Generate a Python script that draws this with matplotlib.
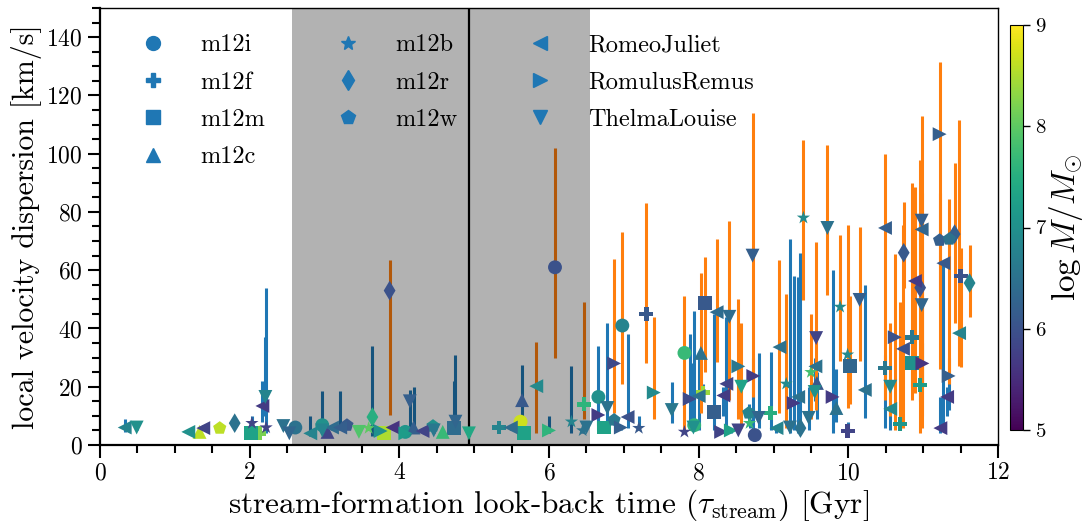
import matplotlib
matplotlib.use("Agg")
import matplotlib.pyplot as plt
from matplotlib.lines import Line2D
from matplotlib.colors import Normalize
import numpy as np

plt.rcParams["font.family"] = "serif"
plt.rcParams["font.serif"] = ["cmr10"]
plt.rcParams["mathtext.fontset"] = "cm"
plt.rcParams["axes.formatter.use_mathtext"] = True

HOSTS = {
    "i": ("m12i", "o"), "f": ("m12f", "P"), "m": ("m12m", "s"), "c": ("m12c", "^"),
    "b": ("m12b", "*"), "r": ("m12r", "d"), "w": ("m12w", "p"),
    "RJ": ("RomeoJuliet", "<"), "RR": ("RomulusRemus", ">"), "TL": ("ThelmaLouise", "v"),
}

t_stream = [
    0.33, 0.49, 1.18, 1.33, 1.38, 1.60, 1.80, 2.03, 2.02, 2.13, 2.17, 2.21, 2.22,
    2.45, 2.53, 2.61, 2.81, 2.97, 2.97, 3.04, 3.10, 3.21, 3.30, 3.46, 3.59, 3.64, 3.75, 3.80, 3.87, 3.91,
    4.08, 4.08, 4.14, 4.19, 4.31, 4.45, 4.46, 4.58, 4.73, 4.75, 4.93,
    5.33, 5.49, 5.62, 5.66, 5.64, 5.83, 6.08, 6.00, 6.30, 6.47, 6.45, 6.50,
    6.66, 6.66, 6.78, 6.74, 6.87, 6.87, 6.98, 6.96, 7.05, 7.20, 7.30, 7.40, 7.64, 7.81, 7.81, 7.93, 7.88, 7.94,
    8.03, 8.08, 8.06, 8.00, 8.20, 8.24, 8.30, 8.41, 8.37, 8.33, 8.43, 8.53, 8.57, 8.53, 8.73, 8.68, 8.72, 8.75,
    8.80, 8.67, 8.96,
    9.04, 9.08, 9.17, 9.22, 9.27, 9.40, 9.33, 9.36, 9.47, 9.50, 9.56, 9.57, 9.58, 9.55, 9.72, 9.79, 9.84, 9.89,
    9.99, 10.02, 9.99,
    10.15, 10.22, 10.49, 10.49, 10.56, 10.56, 10.62, 10.69, 10.74, 10.73, 10.85, 10.89, 10.96, 10.98, 10.98,
    10.98, 10.85, 10.99, 10.96,
    11.22, 11.22, 11.27, 11.35, 11.42, 11.50, 11.48, 11.34, 11.32, 11.23, 11.62,
]

sigma = [
    6.0, 6.0, 4.5, 4.5, 5.8, 5.8, 7.5, 7.5, 4.0, 4.0, 13.4, 16.5, 6.0,
    6.5, 4.0, 6.0, 4.0, 6.8, 5.0, 4.5, 6.0, 6.0, 6.8, 4.5, 5.8, 9.6, 4.8, 4.0, 53.0, 6.0,
    4.5, 4.0, 15.0, 6.0, 4.8, 6.5, 5.0, 4.5, 5.8, 8.0, 4.0,
    6.0, 6.0, 8.0, 4.0, 15.4, 20.2, 61.0, 5.0, 8.0, 14.0, 5.0, 6.0,
    16.5, 10.3, 12.7, 6.0, 28.0, 8.6, 41.0, 6.0, 9.6, 5.8, 45.0, 18.0, 12.0, 31.6, 4.5, 6.0, 15.8, 6.8,
    31.6, 48.7, 18.0, 16.8, 11.3, 45.6, 4.5, 44.0, 21.0, 17.0, 5.0, 27.0, 20.0, 5.0, 23.7, 7.5, 65.0, 3.4,
    9.3, 11.0, 11.0,
    5.8, 33.6, 21.0, 6.0, 14.4, 78.0, 16.5, 5.8, 9.3, 25.0, 27.0, 36.7, 21.3, 18.2, 74.5, 16.5, 12.7, 47.4,
    31.0, 27.0, 4.8,
    49.8, 18.9, 74.5, 26.4, 20.0, 12.4, 37.0, 7.2, 66.0, 33.0, 37.0, 56.3, 54.0, 77.0, 74.0,
    48.0, 28.0, 28.0, 20.6,
    106.7, 70.3, 62.4, 70.7, 72.4, 58.0, 38.4, 23.7, 16.5, 5.8, 55.6,
]

sigma_lo = [
    4.5, 5, 4, 4, 5, 5, 6.5, 6, 3, 3, 8, 10, 4,
    5, 3, 5, 3, 5, 4, 4, 5, 5, 6, 4, 5, 3, 4, 3, 10.3, 5,
    3.5, 3, 6, 5, 4, 5.5, 4, 4, 4, 5, 3,
    5, 5, 7, 3, 8, 4, 30, 4, 4, 9, 4, 5,
    5, 7, 6, 5, 11, 7, 21, 5, 6, 5, 28, 9, 7.5, 5, 4, 5, 5, 5,
    11, 25, 15, 5, 5, 28.5, 4, 15.4, 5, 10, 4, 9, 6, 4, 5, 6, 16.5, 3,
    6, 8, 5,
    4, 11, 6, 4, 5, 49.8, 4, 4, 5, 9, 20, 12, 9, 15, 51.5, 4, 8, 29,
    12.7, 14, 4,
    29, 9.3, 15.4, 5.8, 10, 5, 5, 5, 54, 6, 15.4, 18, 4, 20, 6,
    10, 20, 20, 15,
    53, 26, 6.8, 21, 42, 26.8, 27, 12, 10, 4, 44,
]

sigma_hi = [
    9, 7, 5, 5, 7, 7.5, 8.5, 10, 5, 5, 22, 37, 54,
    8, 5, 7, 10, 18.5, 6, 5, 7, 18.5, 8, 5, 7, 34, 6, 5, 63.5, 7,
    6, 5, 19, 20, 6, 7.5, 6, 5, 22, 31, 5,
    7.5, 7, 9, 5, 27.4, 35.4, 102, 10, 27, 49, 6, 7,
    34, 14, 42, 7, 64, 10, 73, 7, 38, 10, 83, 44, 21.6, 51, 5, 28, 38, 46,
    59, 64.5, 21, 30, 45, 70.7, 5, 77, 44, 20, 6, 50, 42, 6, 30, 9, 114, 4,
    31.6, 14, 32,
    7, 63.5, 52, 70.7, 58, 104.7, 57.7, 66, 20, 45, 30, 69.6, 25, 21, 103, 60, 26, 72,
    75.5, 51, 8,
    74.8, 55, 100, 31, 42, 20, 65.5, 49, 83.5, 75.5, 90, 88.5, 97.8, 113, 86.5,
    60, 35, 35, 26,
    131.4, 86.5, 63, 84.4, 96.8, 67.6, 111.5, 30, 20, 16.5, 68.6,
]

log_mass = [
    6.8, 7.0, 7.0, 8.6, 5.8, 8.6, 6.5, 5.8, 7.3, 8.2, 5.7, 6.8, 5.8,
    6.5, 6.3, 6.5, 6.8, 7.0, 6.8, 5.8, 6.4, 6.2, 6.1, 7.9, 8.0, 7.5, 7.0, 8.5, 6.0, 5.6,
    7.1, 7.2, 6.2, 6.2, 5.8, 7.0, 6.6, 7.7, 6.4, 6.3, 7.4,
    6.8, 6.4, 8.7, 7.3, 6.1, 6.9, 6.0, 7.6, 6.8, 7.6, 6.5, 6.5,
    7.0, 5.7, 6.5, 7.3, 5.9, 6.6, 6.8, 6.2, 6.0, 6.1, 6.1, 6.9, 6.6, 7.7, 5.8, 7.0, 5.9, 7.6,
    6.5, 6.1, 8.4, 6.5, 6.2, 6.4, 5.8, 6.4, 5.8, 5.7, 7.3, 6.6, 7.3, 5.8, 5.7, 7.7, 6.2, 6.0,
    6.3, 6.8, 7.5,
    6.8, 6.5, 6.9, 6.5, 5.7, 6.9, 6.5, 6.5, 6.5, 7.8, 6.5, 5.8, 6.1, 7.0, 6.5, 5.7, 6.5, 6.9,
    6.9, 6.3, 5.8,
    6.2, 6.5, 6.2, 6.6, 6.9, 6.9, 6.0, 7.1, 6.1, 6.0, 6.6, 5.7, 6.0, 6.2, 6.3,
    6.3, 7.0, 5.6, 7.2,
    6.2, 6.2, 6.1, 6.5, 6.2, 6.0, 6.8, 6.2, 5.7, 5.7, 6.8,
]

host = [
    "RJ", "TL", "RJ", "c", "RJ", "w", "r", "b", "m", "f", "RJ", "TL", "b",
    "TL", "TL", "i", "RJ", "i", "TL", "c", "RJ", "RJ", "w", "TL", "b", "r", "RR", "m", "r", "RJ",
    "i", "RR", "TL", "c", "RJ", "w", "TL", "c", "m", "TL", "TL",
    "f", "RJ", "i", "m", "c", "RJ", "i", "RR", "b", "f", "b", "TL",
    "i", "RR", "TL", "m", "RR", "w", "i", "RR", "RJ", "b", "f", "RR", "TL", "i", "b", "TL", "RR", "i",
    "c", "m", "f", "RJ", "m", "RJ", "RR", "TL", "RJ", "RJ", "RR", "RR", "TL", "TL", "RR", "b", "TL", "i",
    "TL", "w", "f",
    "RJ", "RJ", "b", "TL", "RR", "b", "RJ", "r", "TL", "b", "RJ", "TL", "c", "TL", "TL", "RR", "c", "b",
    "b", "m", "f",
    "TL", "RJ", "RJ", "f", "TL", "RJ", "RR", "f", "r", "RJ", "f", "RJ", "r", "TL", "RJ",
    "TL", "m", "RR", "f",
    "RR", "w", "RJ", "w", "r", "f", "RJ", "RR", "RJ", "RJ", "r",
]

# 1 = orange error bar, 0 = blue
orange = [
    0, 0, 0, 0, 0, 0, 0, 0, 0, 0, 0, 0, 0,
    0, 0, 0, 0, 0, 0, 0, 0, 0, 0, 0, 0, 0, 0, 0, 1, 0,
    0, 0, 0, 0, 0, 0, 0, 0, 0, 0, 0,
    0, 0, 0, 0, 0, 1, 1, 0, 0, 1, 0, 0,
    0, 0, 0, 0, 1, 0, 1, 0, 0, 0, 1, 1, 0, 1, 0, 0, 0, 0,
    1, 1, 0, 0, 0, 1, 0, 1, 0, 0, 0, 1, 1, 0, 0, 0, 1, 0,
    0, 0, 0,
    0, 1, 1, 0, 0, 1, 0, 0, 0, 1, 0, 1, 0, 0, 1, 0, 0, 1,
    1, 1, 0,
    1, 0, 1, 0, 1, 0, 1, 1, 1, 1, 1, 1, 1, 1, 1,
    1, 0, 0, 0,
    1, 1, 0, 1, 1, 1, 1, 0, 0, 0, 1,
]

t = np.array(t_stream)
s = np.array(sigma)
lo = np.array(sigma_lo, dtype=float)
hi = np.array(sigma_hi, dtype=float)
lm = np.array(log_mass)
hk = np.array(host)
oc = np.array(orange, dtype=bool)

fig = plt.figure(figsize=(10.86, 5.21), dpi=100)
ax = fig.add_axes([100 / 1086, 1 - 445 / 521, 898 / 1086, 437 / 521])
cax = fig.add_axes([1010 / 1086, 1 - 430 / 521, 13 / 1086, 405 / 521])

ax.vlines(t[~oc], lo[~oc], hi[~oc], colors="tab:blue", lw=2.2, zorder=2)
ax.vlines(t[oc], lo[oc], hi[oc], colors="tab:orange", lw=2.2, zorder=2)

ax.axvspan(2.57, 6.55, color="k", alpha=0.3, lw=0, zorder=2.5)
ax.axvline(4.93, color="k", lw=1.6, zorder=2.6)

norm = Normalize(5, 9)
sc = None
for key, (name, mk) in HOSTS.items():
    sel = hk == key
    sc = ax.scatter(t[sel], s[sel], c=lm[sel], cmap="viridis", norm=norm,
                    marker=mk, s=100, lw=0, zorder=3)

handles = [Line2D([], [], ls="none", marker=mk, color="tab:blue", ms=10)
           for name, mk in HOSTS.values()]
labels = [name for name, mk in HOSTS.values()]
ax.legend(handles, labels, ncol=3, frameon=False, loc="upper left",
          bbox_to_anchor=(0.035, 0.962), borderaxespad=0, fontsize=17.5,
          handlelength=1.0, handletextpad=1.45, columnspacing=2.9,
          labelspacing=0.62)

ax.set_xlim(0, 12)
ax.set_ylim(0, 150)
ax.set_xticks(np.arange(0, 13, 2))
ax.set_xticks(np.arange(0, 12.01, 0.5), minor=True)
ax.set_yticks(np.arange(0, 141, 20))
ax.set_yticks(np.arange(0, 151, 5), minor=True)
ax.tick_params(which="both", direction="out", width=1.5, labelsize=17)
ax.tick_params(which="major", length=9)
ax.tick_params(which="minor", length=6)
for side in ["left", "bottom"]:
    ax.spines[side].set_linewidth(1.6)
for side in ["top", "right"]:
    ax.spines[side].set_linewidth(1.0)

ax.set_xlabel(r"stream-formation look-back time ($\tau_{\rm stream}$) [Gyr]", fontsize=22.5, labelpad=2)
ax.set_ylabel("local velocity dispersion [km/s]", fontsize=21.5, labelpad=3)

cb = fig.colorbar(sc, cax=cax)
cb.set_ticks([5, 6, 7, 8, 9])
cb.ax.tick_params(labelsize=15, length=5, width=1)
cb.set_label(r"$\log M/M_{\odot}$", fontsize=24, labelpad=0)

fig.savefig("out.png", dpi=100)
